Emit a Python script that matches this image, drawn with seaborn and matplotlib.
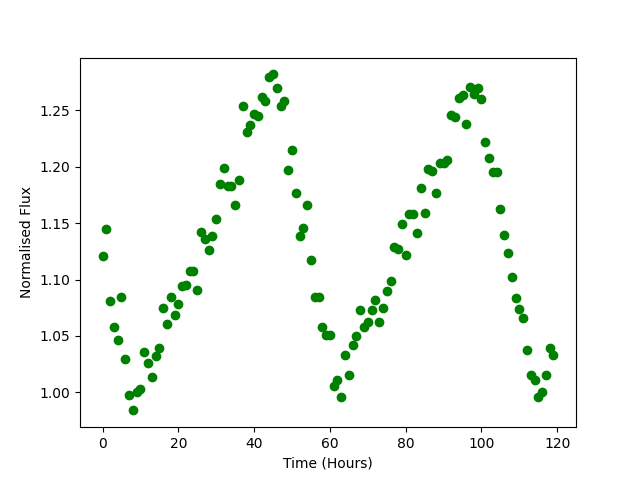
import numpy as np
import pandas as pd
import matplotlib
matplotlib.use('Agg')
import matplotlib.pyplot as plt
import seaborn as sns

# hourly samples, 0..119
hours = list(range(120))

flux = [
    1.121, 1.145, 1.081, 1.058, 1.046, 1.085, 1.030, 0.998, 0.984, 1.000,
    1.003, 1.036, 1.026, 1.014, 1.032, 1.039, 1.075, 1.061, 1.085, 1.069,
    1.078, 1.094, 1.095, 1.108, 1.108, 1.091, 1.142, 1.136, 1.126, 1.139,
    1.154, 1.185, 1.199, 1.183, 1.183, 1.166, 1.188, 1.254, 1.231, 1.237,
    1.247, 1.245, 1.262, 1.258, 1.280, 1.282, 1.270, 1.254, 1.258, 1.197,
    1.215, 1.177, 1.139, 1.146, 1.166, 1.117, 1.085, 1.085, 1.058, 1.051,
    1.051, 1.006, 1.011, 0.996, 1.033, 1.015, 1.042, 1.050, 1.073, 1.058,
    1.062, 1.073, 1.082, 1.062, 1.075, 1.090, 1.099, 1.129, 1.127, 1.149,
    1.122, 1.158, 1.158, 1.141, 1.181, 1.159, 1.198, 1.196, 1.177, 1.203,
    1.203, 1.206, 1.246, 1.244, 1.261, 1.264, 1.238, 1.271, 1.265, 1.270,
    1.260, 1.222, 1.208, 1.195, 1.195, 1.163, 1.140, 1.124, 1.102, 1.084,
    1.074, 1.066, 1.038, 1.015, 1.011, 0.996, 1.000, 1.015, 1.039, 1.033,
]

df = pd.DataFrame({'time': hours, 'flux': flux})

fig, ax = plt.subplots(figsize=(6.4, 4.8), dpi=100)
sns.scatterplot(x='time', y='flux', data=df, ax=ax, color='green',
                s=36, linewidth=1, edgecolor='green')
ax.set_xlabel('Time (Hours)')
ax.set_ylabel('Normalised Flux')
fig.savefig('out.png', dpi=100)
